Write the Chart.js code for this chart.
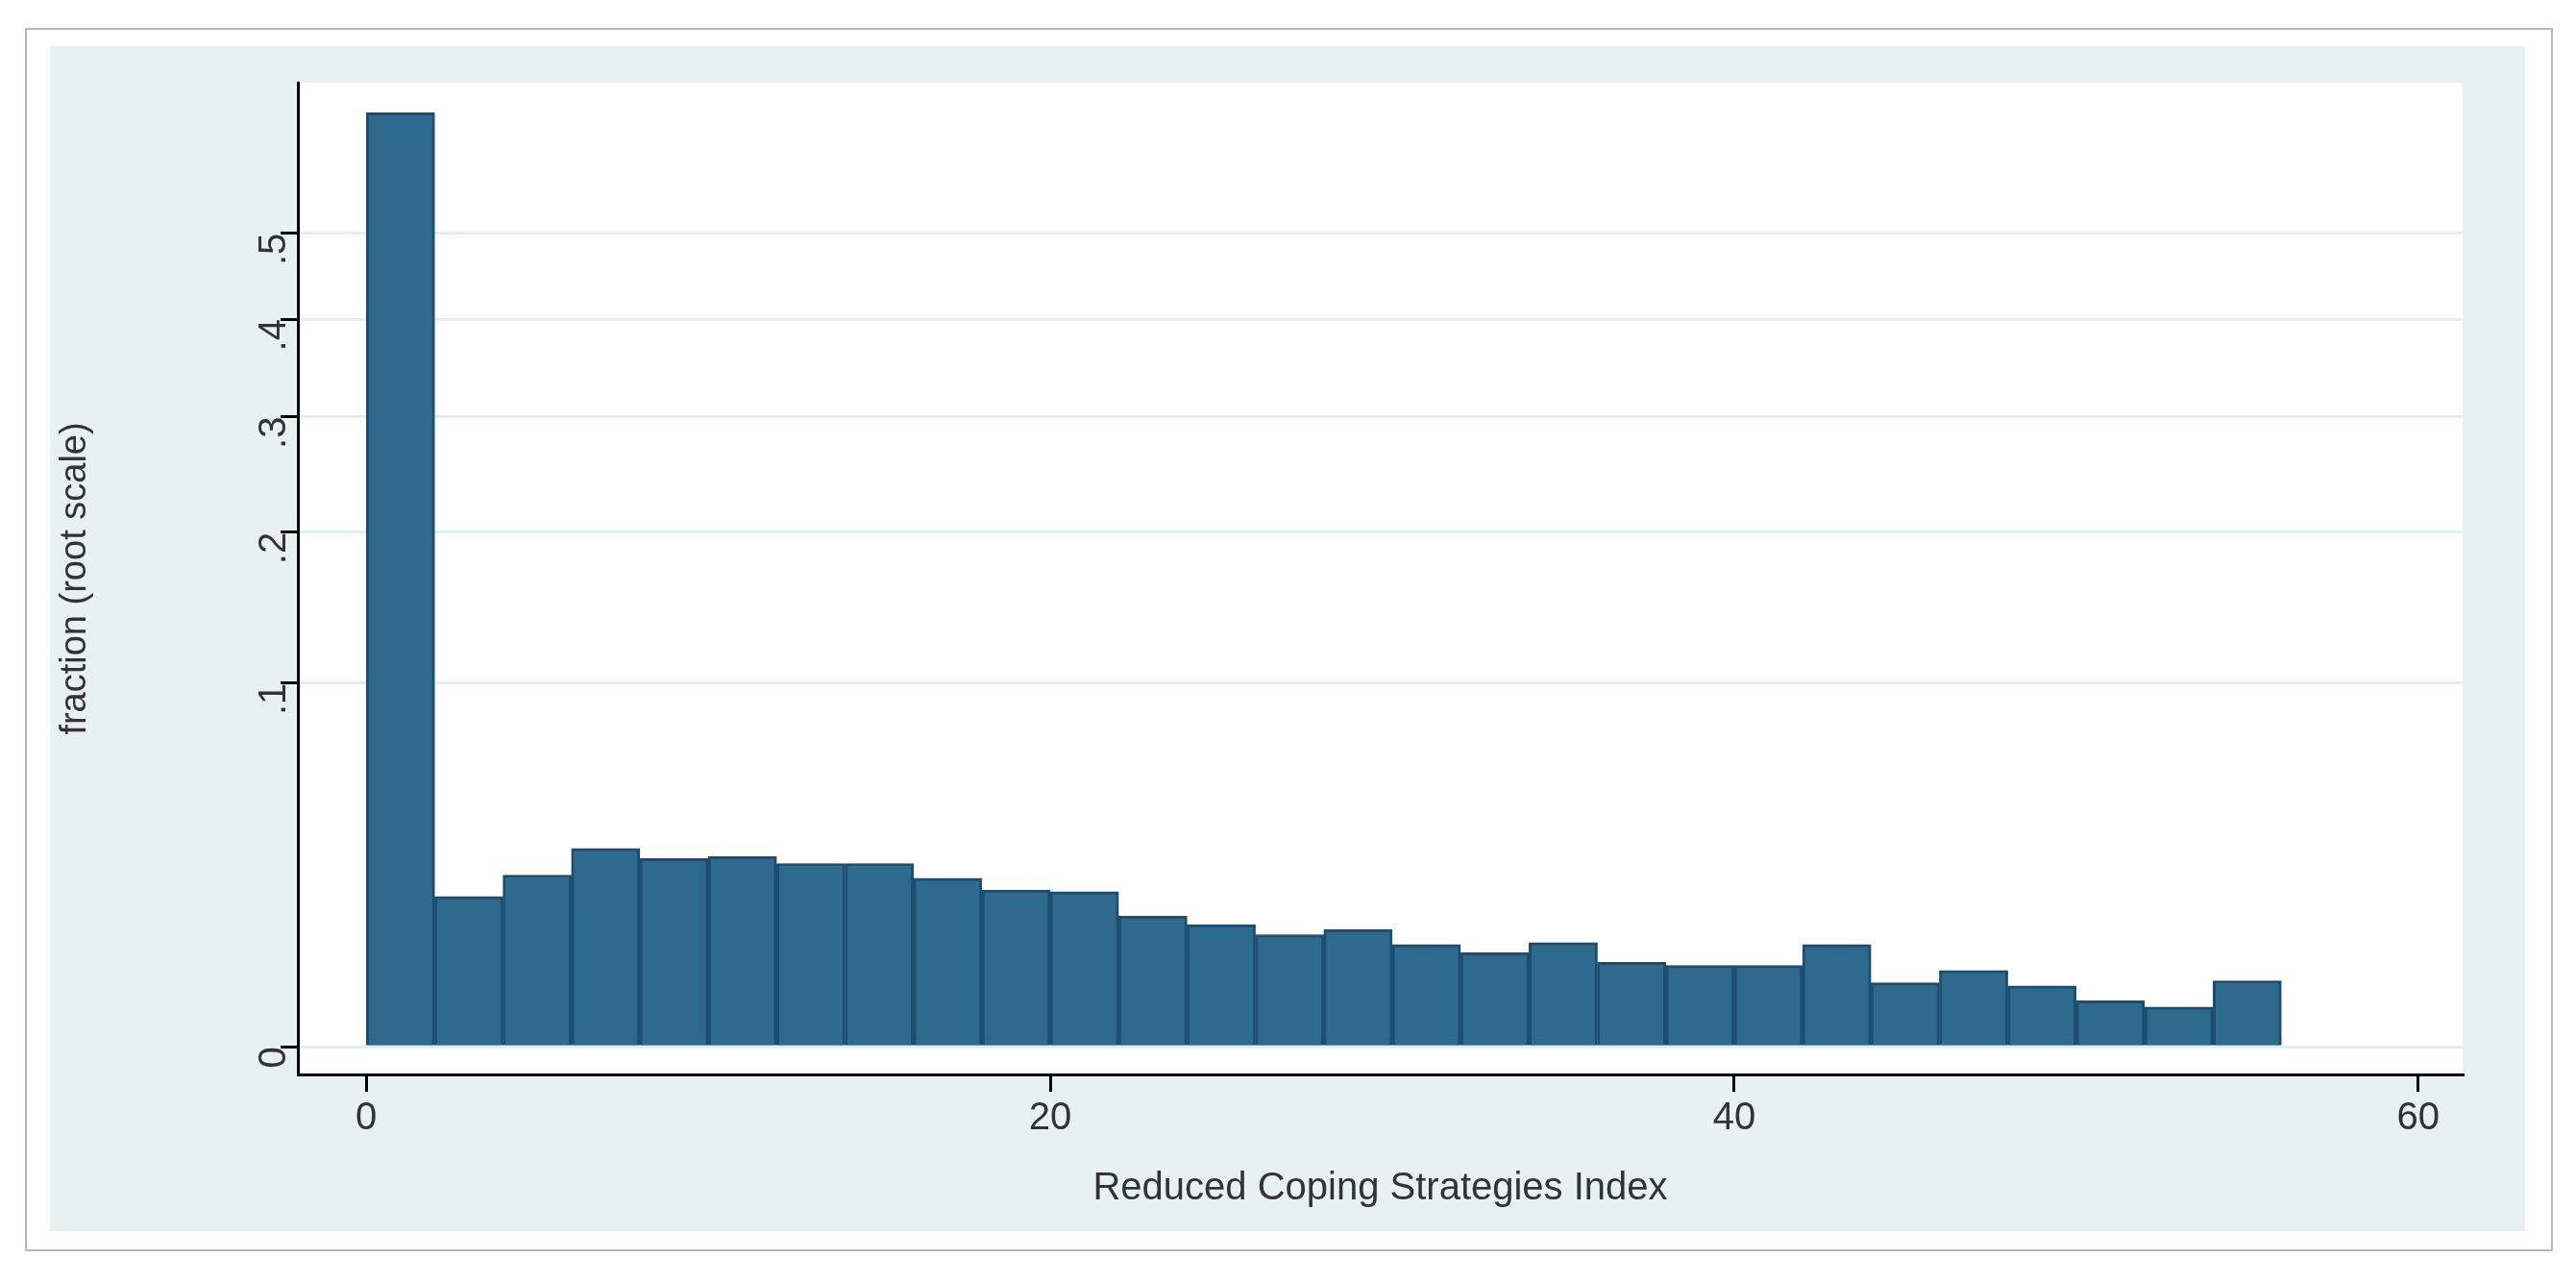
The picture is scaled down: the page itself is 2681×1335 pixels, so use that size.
<!DOCTYPE html>
<html>
<head>
<meta charset="utf-8">
<script src="https://cdn.jsdelivr.net/npm/chart.js@4"></script>
<style>
  body { margin: 0; background: #fff; width: 2681px; height: 1335px; position: relative; overflow: hidden; }
  #frame { position: absolute; left: 26px; top: 29px; width: 2631px; height: 1273px; border: 2px solid #b8b8b8; box-sizing: border-box; }
  #wrap { position: absolute; left: 52px; top: 48px; width: 2576px; height: 1233px; background: #e7f1f2; }
</style>
</head>
<body>
<div id="frame"></div>
<div id="wrap"><canvas id="c"></canvas></div>
<script>
// bin centres (width 2) and fraction per bin
const binCentres = [1, 3, 5, 7, 9, 11, 13, 15, 17, 19, 21, 23, 25, 27, 29, 31, 33, 35, 37, 39, 41, 43, 45, 47, 49, 51, 53, 55];
const fractions = [0.659, 0.0171, 0.0223, 0.0297, 0.0268, 0.0273, 0.0254, 0.0254, 0.0215, 0.0186, 0.0182, 0.0129,
  0.0113, 0.0095, 0.0104, 0.0079, 0.0067, 0.0082, 0.0054, 0.0050, 0.0050, 0.0079, 0.0031, 0.0044, 0.0028, 0.0016, 0.0012, 0.0033];
const yTickValues = [0, 0.1, 0.2, 0.3, 0.4, 0.5];
const xTickValues = [0, 20, 40, 60];

const plotBg = {
  id: "plotBg",
  beforeDraw(chart) {
    const { ctx, chartArea: a } = chart;
    ctx.save();
    ctx.fillStyle = "#ffffff";
    ctx.fillRect(a.left, a.top, a.right - a.left, a.bottom - a.top);
    ctx.restore();
  },
};

const canvas = document.getElementById("c");
canvas.width = 2576;
canvas.height = 1233;
new Chart(canvas, {
  type: "bar",
  data: {
    datasets: [{
      data: binCentres.map((x, i) => ({ x: x, y: Math.sqrt(fractions[i]) })),
      backgroundColor: "#2e6a8d",
      borderColor: "#1b4e70",
      borderWidth: 3,
      barPercentage: 1,
      categoryPercentage: 1,
    }],
  },
  options: {
    responsive: false,
    animation: false,
    layout: { padding: { left: 0, top: 38, right: 65, bottom: 20 } },
    plugins: { legend: { display: false }, tooltip: { enabled: false } },
    scales: {
      x: {
        type: "linear",
        offset: false,
        min: -2,
        max: 61.3,
        afterBuildTicks: (s) => { s.ticks = xTickValues.map((v) => ({ value: v })); },
        afterFit: (s) => { s.height = 143; },
        border: { color: "#000", width: 3 },
        grid: { drawOnChartArea: false, offset: false, color: "#000", lineWidth: 3, tickLength: 18 },
        ticks: { color: "#333", font: { family: "Liberation Sans", size: 40 }, maxRotation: 0, padding: 4 },
        title: { display: true, text: "Reduced Coping Strategies Index", color: "#333",
          font: { family: "Liberation Sans", size: 40 }, padding: 0 },
      },
      y: {
        min: -0.024,
        max: 0.838,
        afterBuildTicks: (s) => { s.ticks = yTickValues.map((v) => ({ value: Math.sqrt(v) })); },
        afterFit: (s) => { s.width = 258; },
        border: { color: "#000", width: 3 },
        grid: { color: "#e4eff2", lineWidth: 3, tickColor: "#000", tickLength: 18 },
        ticks: {
          color: "#333", font: { family: "Liberation Sans", size: 40 }, minRotation: 90, maxRotation: 90, padding: 6,
          callback: (v) => { const f = Math.round(v * v * 10) / 10; return f === 0 ? "0" : String(f).replace(/^0/, ""); },
        },
        title: { display: true, text: "fraction (root scale)", color: "#333",
          font: { family: "Liberation Sans", size: 38 }, padding: 4 },
      },
    },
  },
  plugins: [plotBg],
});
</script>
</body>
</html>
